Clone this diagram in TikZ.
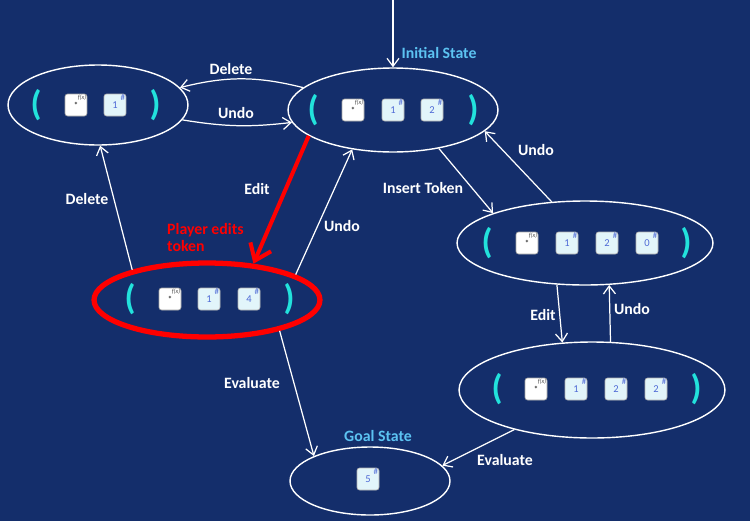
\documentclass[tikz,border=0pt]{standalone}
\usepackage{fontspec}
\setmainfont{Carlito}
\usepackage{xcolor}
\usetikzlibrary{arrows.meta,positioning,shapes.geometric}
\definecolor{Navy}{HTML}{142E6B}
\definecolor{Sky}{HTML}{5CC3F2}
\definecolor{Aqua}{HTML}{22E2DC}
\definecolor{TokFill}{HTML}{E2F5FA}
\definecolor{TokInk}{HTML}{4F6AD6}
\definecolor{Hot}{HTML}{FF0000}
\tikzset{
  state/.style={ellipse, draw=white, line width=0.8pt, inner sep=0pt},
  paren/.style={text=Aqua, font=\fontsize{20}{20}\selectfont\bfseries, inner sep=0pt},
  optok/.style={draw=gray!70, fill=white, rounded corners=1.5pt, minimum size=0.44cm, inner sep=0pt, font=\fontsize{5}{5}\selectfont},
  numtok/.style={draw=gray!60, fill=TokFill, rounded corners=1.5pt, minimum size=0.44cm, inner sep=0pt, text=TokInk, font=\fontsize{6}{6}\selectfont},
  tagtext/.style={inner sep=0.5pt, font=\fontsize{3.5}{3.5}\selectfont},
  lbl/.style={text=white, font=\fontsize{9}{10}\selectfont\bfseries},
  title/.style={text=Sky, font=\fontsize{9}{10}\selectfont\bfseries},
  link/.style={white, line width=0.7pt, -{Straight Barb[length=1.6mm,width=2.4mm]}},
}
\newcommand{\optoken}[3]{% name, x, y
  \node[optok] (#1) at (#2,#3) {*};
  \node[tagtext, text=black!70, anchor=north east] (#1-t) at (#1.north east) {\itshape f(x)};
}
\newcommand{\numtoken}[4]{% name, x, y, value
  \node[numtok] (#1) at (#2,#3) {\raisebox{-0.6pt}{#4}};
  \node[tagtext, text=TokInk, anchor=north east] (#1-t) at (#1.north east) {\fontsize{5}{5}\selectfont\#};
}

\begin{document}
\begin{tikzpicture}[x=0.02cm, y=-0.02cm]
        \fill[Navy] (0,0) rectangle (750,521);
        \useasboundingbox (0,0) rectangle (750,521);

        % states
        \node[state, minimum width=3.6cm, minimum height=1.6cm] (left) at (98,105) {};
        \node[state, minimum width=4.2cm, minimum height=1.68cm] (init) at (393,110) {};
        \node[state, minimum width=5.12cm, minimum height=1.68cm] (ins) at (585,243) {};
        \node[ellipse, draw=Hot, line width=3pt, inner sep=0pt, minimum width=4.52cm, minimum height=1.48cm] (edit) at (207,300) {};
        \node[state, minimum width=5.32cm, minimum height=1.92cm] (edit2) at (592,390) {};
        \node[state, minimum width=3.2cm, minimum height=1.36cm] (goal) at (370,481) {};

        % tokens
        \node[paren] (left-l) at (36,105) {(};
        \optoken{left-a}{76}{105}
        \numtoken{left-b}{115}{105}{1}
        \node[paren] (left-r) at (155,105) {)};

        \node[paren] (init-l) at (313,110) {(};
        \optoken{init-a}{353}{110}
        \numtoken{init-b}{393}{110}{1}
        \numtoken{init-c}{432}{110}{2}
        \node[paren] (init-r) at (473,110) {)};

        \node[paren] (ins-l) at (487,243) {(};
        \optoken{ins-a}{527}{243}
        \numtoken{ins-b}{567}{243}{1}
        \numtoken{ins-c}{607}{243}{2}
        \numtoken{ins-d}{647}{243}{0}
        \node[paren] (ins-r) at (686,243) {)};

        \node[paren] (edit-l) at (130,299) {(};
        \optoken{edit-a}{170}{299}
        \numtoken{edit-b}{209}{299}{1}
        \numtoken{edit-c}{249}{299}{4}
        \node[paren] (edit-r) at (289,299) {)};

        \node[paren] (edit2-l) at (497,389) {(};
        \optoken{edit2-a}{536}{389}
        \numtoken{edit2-b}{576}{389}{1}
        \numtoken{edit2-c}{616}{389}{2}
        \numtoken{edit2-d}{656}{389}{2}
        \node[paren] (edit2-r) at (696,389) {)};

        \numtoken{goal-a}{368}{479}{5}

        % titles
        \node[title] (init-title) at (439,53) {Initial State};
        \node[title] (goal-title) at (378,436) {Goal State};

        % connectors
        \coordinate (entry) at (393,0);
        \draw[link] (entry) -- (init.north);
        \draw[link] (init.166) to[bend right=14] (left.12);
        \draw[link] (left.-10) to[bend right=8] (init.187);
        \draw[link] (edit.158) -- (left.-87);
        \draw[Hot, line width=2.3pt, -{Straight Barb[length=3mm,width=4.5mm]}] (init.197) -- (edit.38);
        \draw[link] (edit.16) -- (init.224);
        \draw[link] (init.320) -- (ins.162);
        \draw[link] (ins.129) -- (init.347);
        \draw[link] (ins.236) -- (edit2.122);
        \draw[link] (edit2.69) -- (ins.300);
        \draw[link] (edit.337) -- (goal.156);
        \draw[link] (edit2.207) -- (goal.12);

        % labels
        \node[lbl] (l-del1) at (231,69) {Delete};
        \node[lbl] (l-undo1) at (236,113) {Undo};
        \node[lbl] (l-del2) at (87,199) {Delete};
        \node[lbl] (l-edit1) at (257,189) {Edit};
        \node[lbl] (l-undo2) at (342,226) {Undo};
        \node[lbl] (l-ins) at (423,188) {Insert Token};
        \node[lbl] (l-undo3) at (536,150) {Undo};
        \node[lbl] (l-edit2) at (543,315) {Edit};
        \node[lbl] (l-undo4) at (632,309) {Undo};
        \node[lbl] (l-eval1) at (252,383) {Evaluate};
        \node[lbl] (l-eval2) at (505,460) {Evaluate};
        \node[lbl, text=Hot, align=left, anchor=north west] (l-player) at (161,217) {Player edits\\token};
      \end{tikzpicture}
\end{document}
